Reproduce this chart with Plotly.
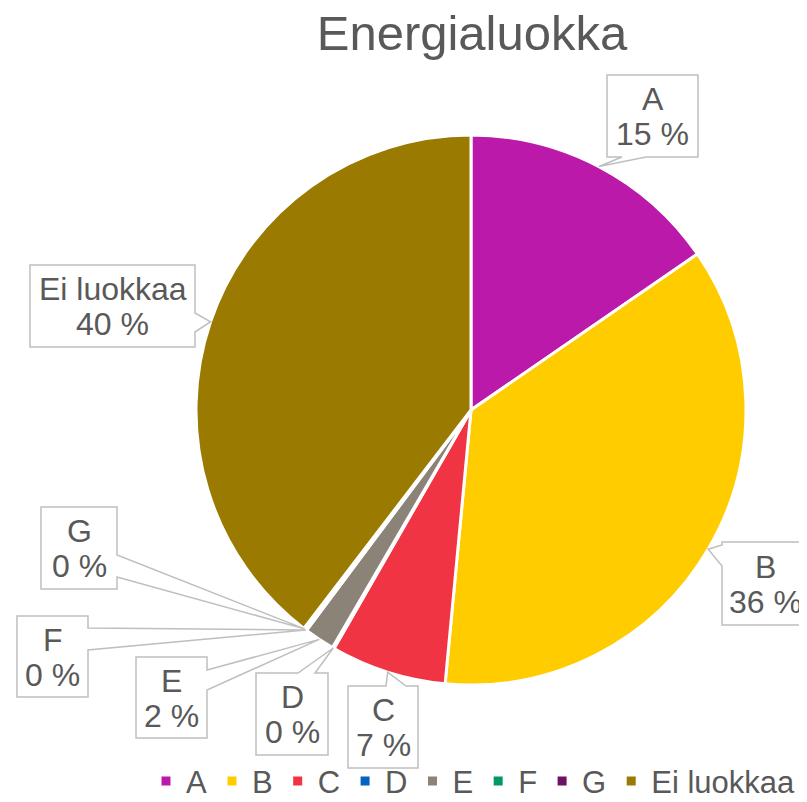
import math
import plotly.graph_objects as go

# ---- data ----
categories = ["A", "B", "C", "D", "E", "F", "G", "Ei luokkaa"]
values = [15.4, 36.1, 6.8, 0.1, 1.8, 0.1, 0.1, 39.6]
colors = ["#BB19A9", "#FFCC00", "#F03443", "#0563C1", "#8B8378", "#009966", "#6E1266", "#9A7A00"]
title_text = "Energialuokka"

OFF = 8  # page body margin
FW, FH = 799, 802
CX, CY, R = 471, 410, 275  # pie centre/radius in page px (layout)
TXT = "#595959"
BORDER = "#BFBFBF"
FONT = "Liberation Sans, Arial, sans-serif"

# callout boxes: (x0, y0, x1, y1, side, wedge_a, wedge_b) in page px (layout only)
boxes = {
    "A": (607, 75, 698, 157, "bottom", 622, 646),
    "B": (722, 542, 815, 625, "left", 545, 566),
    "C": (348, 686, 418, 768, "top", 386, 406),
    "D": (256, 673, 328, 755, "top", 298, 315),
    "E": (136, 657, 207, 738, "right", 670, 690),
    "F": (17, 616, 88, 697, "right", 628, 650),
    "G": (41, 507, 117, 589, "right", 555, 577),
    "Ei luokkaa": (30, 265, 195, 347, "right", 313, 332),
}


def px(x):
    return (x - OFF) / FW


def py(y):
    return 1 - (y - OFF) / FH


total = sum(values)

fig = go.Figure()
fig.add_trace(go.Pie(
    labels=categories,
    values=values,
    sort=False,
    direction="clockwise",
    rotation=0,
    textinfo="none",
    hoverinfo="label+percent",
    marker=dict(colors=colors, line=dict(color="white", width=3)),
    domain=dict(x=[px(CX - R), px(CX + R)], y=[py(CY + R), py(CY - R)]),
    showlegend=True,
))

shapes = []
annotations = []
cum = 0.0
for cat, v in zip(categories, values):
    mid = (cum + v / 2) / total * 2 * math.pi
    cum += v
    tx = CX + R * math.sin(mid)
    ty = CY - R * math.cos(mid)
    x0, y0, x1, y1, side, a, b = boxes[cat]
    pts = [(x0, y0)]
    if side == "top":
        pts += [(a, y0), (tx, ty), (b, y0)]
    pts.append((x1, y0))
    if side == "right":
        pts += [(x1, a), (tx, ty), (x1, b)]
    pts.append((x1, y1))
    if side == "bottom":
        pts += [(b, y1), (tx, ty), (a, y1)]
    pts.append((x0, y1))
    if side == "left":
        pts += [(x0, b), (tx, ty), (x0, a)]
    path = "M " + " L ".join(f"{px(x):.5f},{py(y):.5f}" for x, y in pts) + " Z"
    shapes.append(dict(type="path", xref="paper", yref="paper", path=path,
                       line=dict(color=BORDER, width=1.5), fillcolor="white", layer="above"))
    cxb = (x0 + min(x1, 807)) / 2
    cyb = (y0 + y1) / 2
    if cat == "B":
        cxb = 765
    pct = round(v / total * 100)
    annotations.append(dict(x=px(cxb), y=py(cyb - 17), xref="paper", yref="paper",
                            text=cat, showarrow=False, xanchor="center", yanchor="middle",
                            font=dict(size=32, color=TXT, family=FONT)))
    annotations.append(dict(x=px(cxb), y=py(cyb + 18), xref="paper", yref="paper",
                            text=f"{pct} %", showarrow=False, xanchor="center", yanchor="middle",
                            font=dict(size=32, color=TXT, family=FONT)))

fig.update_layout(
    width=FW, height=FH,
    margin=dict(l=0, r=0, t=0, b=0),
    paper_bgcolor="white",
    plot_bgcolor="white",
    title=dict(text=title_text, x=px(472), xanchor="center", y=py(33), yanchor="middle",
               font=dict(size=49, color=TXT, family=FONT)),
    legend=dict(orientation="h", x=px(146), xanchor="left", y=0.002, yanchor="bottom",
                font=dict(size=31, color=TXT, family=FONT), bgcolor="rgba(0,0,0,0)",
                itemclick=False),
    shapes=shapes,
    annotations=annotations,
)

fig.write_html("out.html")
